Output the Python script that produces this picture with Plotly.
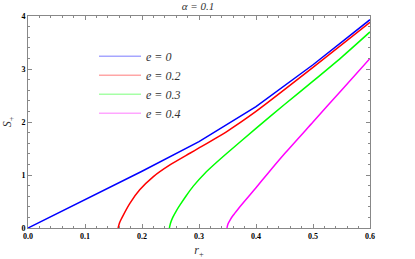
import plotly.graph_objects as go

r_e0 = [0, 0.1, 0.2, 0.3, 0.4, 0.5, 0.6]
S_e0 = [0, 0.53, 1.07, 1.63, 2.29, 3.08, 3.93]

r_e02 = [0.158, 0.161, 0.167, 0.179, 0.196, 0.22, 0.249, 0.284, 0.3, 0.35, 0.4, 0.5, 0.6]
S_e02 = [0, 0.11, 0.24, 0.47, 0.72, 0.97, 1.19, 1.41, 1.51, 1.83, 2.2, 3.03, 3.88]

r_e03 = [0.248, 0.25, 0.254, 0.26, 0.267, 0.277, 0.29, 0.31, 0.33, 0.35, 0.4, 0.45, 0.5, 0.55, 0.6]
S_e03 = [0, 0.09, 0.2, 0.32, 0.44, 0.6, 0.79, 1.03, 1.23, 1.42, 1.88, 2.33, 2.77, 3.22, 3.7]

r_e04 = [0.349, 0.351, 0.355, 0.36, 0.368, 0.378, 0.39, 0.4, 0.42, 0.45, 0.5, 0.55, 0.6]
S_e04 = [0, 0.08, 0.16, 0.24, 0.35, 0.48, 0.63, 0.76, 1.02, 1.4, 2.0, 2.6, 3.2]

labels = ["e = 0", "e = 0.2", "e = 0.3", "e = 0.4"]
colors = ["#0000FF", "#FF0000", "#00FF00", "#FF00FF"]
legend_colors = ["rgba(0,0,255,0.35)", "rgba(255,0,0,0.35)", "rgba(0,255,0,0.35)", "rgba(255,0,255,0.35)"]
shapes = ["linear", "spline", "spline", "spline"]
series = [(r_e0, S_e0), (r_e02, S_e02), (r_e03, S_e03), (r_e04, S_e04)]

SERIF = "Liberation Serif, Times New Roman, serif"

fig = go.Figure()
for (rx, sy), c, sh in zip(series, colors, shapes):
    fig.add_trace(go.Scatter(x=rx, y=sy, mode="lines",
                             line=dict(color=c, width=1.5, shape=sh, smoothing=0.6),
                             showlegend=False, hoverinfo="skip"))
for lab, c in zip(labels, legend_colors):
    fig.add_trace(go.Scatter(x=[None], y=[None], mode="lines", name="<i>" + lab + "</i>",
                             line=dict(color=c, width=1.5)))

axis_common = dict(
    showgrid=False, zeroline=False, showline=True, linecolor="#888888", linewidth=1,
    mirror="allticks", ticks="inside", ticklen=4, tickcolor="#888888",
    tickfont=dict(family=SERIF, size=8, color="#000000"), automargin=False,
)
fig.update_xaxes(range=[0, 0.6], tickvals=[0, 0.1, 0.2, 0.3, 0.4, 0.5, 0.6],
                 ticktext=["<b>0.0</b>", "<b>0.1</b>", "<b>0.2</b>", "<b>0.3</b>", "<b>0.4</b>", "<b>0.5</b>", "<b>0.6</b>"],
                 minor=dict(dtick=0.02, ticks="inside", ticklen=2, tickcolor="#888888"),
                 title=dict(text="<i>r</i><sub>+</sub>", font=dict(family=SERIF, size=12, color="#333333"), standoff=8),
                 **axis_common)
fig.update_yaxes(range=[0, 4], tickvals=[0, 1, 2, 3, 4],
                 ticktext=["<b>0</b>", "<b>1</b>", "<b>2</b>", "<b>3</b>", "<b>4</b>"],
                 minor=dict(dtick=0.2, ticks="inside", ticklen=2, tickcolor="#888888"),
                 title=dict(text="<i>S</i><sub>+</sub>", font=dict(family=SERIF, size=12, color="#333333"), standoff=8),
                 **axis_common)

fig.update_layout(
    width=415, height=259,
    margin=dict(l=28, r=45, t=16, b=31),
    plot_bgcolor="white", paper_bgcolor="white",
    title=dict(text="<i>α = 0.1</i>", x=0.477, xanchor="center", y=0.99, yanchor="top",
               font=dict(family=SERIF, size=11, color="#333333"), automargin=False),
    legend=dict(x=0.193, y=0.879, xanchor="left", yanchor="top", bgcolor="rgba(0,0,0,0)",
                font=dict(family=SERIF, size=12, color="#333333"), itemwidth=42, tracegroupgap=0),
)

fig.write_html("out.html", config={"displayModeBar": False},
               post_script="document.body.style.margin='0';document.body.style.padding='0';")
